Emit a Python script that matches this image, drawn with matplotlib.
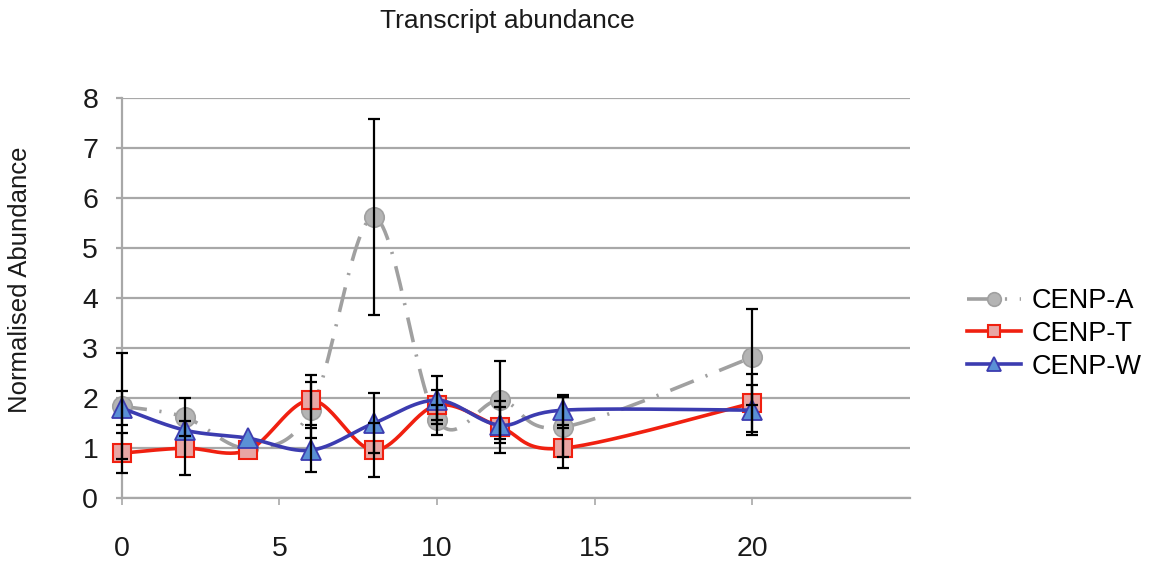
import numpy as np
import matplotlib
matplotlib.use("Agg")
import matplotlib.pyplot as plt

plt.rcParams['font.family'] = ['Liberation Sans', 'DejaVu Sans']

# ---- data ----
time = [0, 2, 4, 6, 8, 10, 12, 14, 20]
cenp_a = [1.84, 1.62, 1.00, 1.76, 5.62, 1.56, 1.96, 1.42, 2.82]
cenp_a_err = [1.06, 0.38, 0.0, 0.56, 1.96, 0.30, 0.78, 0.60, 0.96]
cenp_t = [0.90, 1.00, 0.96, 1.96, 0.96, 1.86, 1.42, 1.00, 1.90]
cenp_t_err = [0.40, 0.54, 0.0, 0.50, 0.54, 0.30, 0.52, 0.40, 0.58]
cenp_w = [1.80, 1.36, 1.20, 0.96, 1.50, 1.96, 1.46, 1.76, 1.76]
cenp_w_err = [0.34, 0.0, 0.0, 0.44, 0.60, 0.48, 0.36, 0.30, 0.50]
x_ticks = [0, 5, 10, 15, 20]
y_ticks = [0, 1, 2, 3, 4, 5, 6, 7, 8]

fig = plt.figure(figsize=(11.49, 5.61), dpi=100)
ax = fig.add_axes([0.106, 0.112, 0.686, 0.713])
ax.set_xlim(0, 25)
ax.set_ylim(0, 8)


def smooth(xs, ys, sx=31.6, sy=50.0, n=30):
    """Excel-like smoothed line (Catmull-Rom Bezier) through the points."""
    P = np.column_stack([np.asarray(xs, float) * sx, np.asarray(ys, float) * sy])
    out = [P[0]]
    for i in range(len(P) - 1):
        p0 = P[i - 1] if i > 0 else P[i]
        p1 = P[i]
        p2 = P[i + 1]
        p3 = P[i + 2] if i + 2 < len(P) else P[i + 1]
        b1 = p1 + (p2 - p0) / 6.0
        b2 = p2 - (p3 - p1) / 6.0
        t = np.linspace(0, 1, n)[1:, None]
        seg = ((1 - t) ** 3) * p1 + 3 * ((1 - t) ** 2) * t * b1 + 3 * (1 - t) * t ** 2 * b2 + t ** 3 * p2
        out.extend(seg)
    out = np.array(out)
    return out[:, 0] / sx, out[:, 1] / sy


series = [
    ("CENP-A", cenp_a, cenp_a_err, dict(color="#a0a0a0", lw=2.6, ls=(0, (7, 3.5, 0.6, 3.5))),
     dict(marker="o", ms=14, mfc="#b4b4b4", mec="#a0a0a0", mew=1.2)),
    ("CENP-T", cenp_t, cenp_t_err, dict(color="#f02010", lw=2.6, ls="-"),
     dict(marker="s", ms=13, mfc="#e8a6a4", mec="#f02010", mew=1.5)),
    ("CENP-W", cenp_w, cenp_w_err, dict(color="#3c3cb0", lw=2.6, ls="-"),
     dict(marker="^", ms=14, mfc="#5a90d6", mec="#3c3cb0", mew=1.3)),
]

handles = []
for z, (name, ys, errs, lstyle, mstyle) in enumerate(series):
    sxs, sys_ = smooth(time, ys)
    ax.plot(sxs, sys_, zorder=3 + z * 2, solid_capstyle='butt', clip_on=False, **lstyle)
    ax.plot(time, ys, ls="none", zorder=4 + z * 2, clip_on=False, **mstyle)
    e = np.array(errs)
    mask = e > 0
    eb = ax.errorbar(np.array(time)[mask], np.array(ys)[mask], yerr=e[mask], fmt="none",
                     ecolor="black", elinewidth=1.6, capsize=4.5, capthick=1.6, zorder=10)
    for art in eb.lines[1] + eb.lines[2]:
        art.set_clip_on(False)
    h, = ax.plot([], [], color=lstyle["color"], lw=lstyle["lw"], ls=lstyle["ls"], **mstyle)
    handles.append(h)

# grid / axes styling
ax.set_yticks(y_ticks)
ax.set_xticks(x_ticks)
ax.yaxis.grid(True, color="#a8a8a8", lw=1.6)
ax.set_axisbelow(True)
for s in ["top", "right"]:
    ax.spines[s].set_visible(False)
ax.spines["left"].set_color("#a8a8a8")
ax.spines["left"].set_linewidth(1.6)
ax.spines["bottom"].set_color("#a8a8a8")
ax.spines["bottom"].set_linewidth(1.6)
ax.tick_params(axis="y", length=4, width=1.6, color="#a8a8a8", pad=13, labelsize=20.5)
ax.tick_params(axis="x", length=5, width=1.2, color="#a8a8a8", pad=22, labelsize=20.5)
for lab in ax.get_xticklabels() + ax.get_yticklabels():
    lab.set_color("#1a1a1a")

ax.set_ylabel("Normalised Abundance", fontsize=18.5, color="#1a1a1a")
ax.yaxis.set_label_coords(-0.114, 0.545)
fig.text(0.442, 0.962, "Transcript abundance", ha="center", va="center", fontsize=19, color="#1a1a1a")

fig.legend(handles, [s[0] for s in series], loc="center left", bbox_to_anchor=(0.82, 0.405),
           frameon=False, fontsize=19.5, handlelength=2.0, handletextpad=0.4, labelspacing=0.25,
           markerscale=0.7)

fig.savefig("out.png", dpi=100)
